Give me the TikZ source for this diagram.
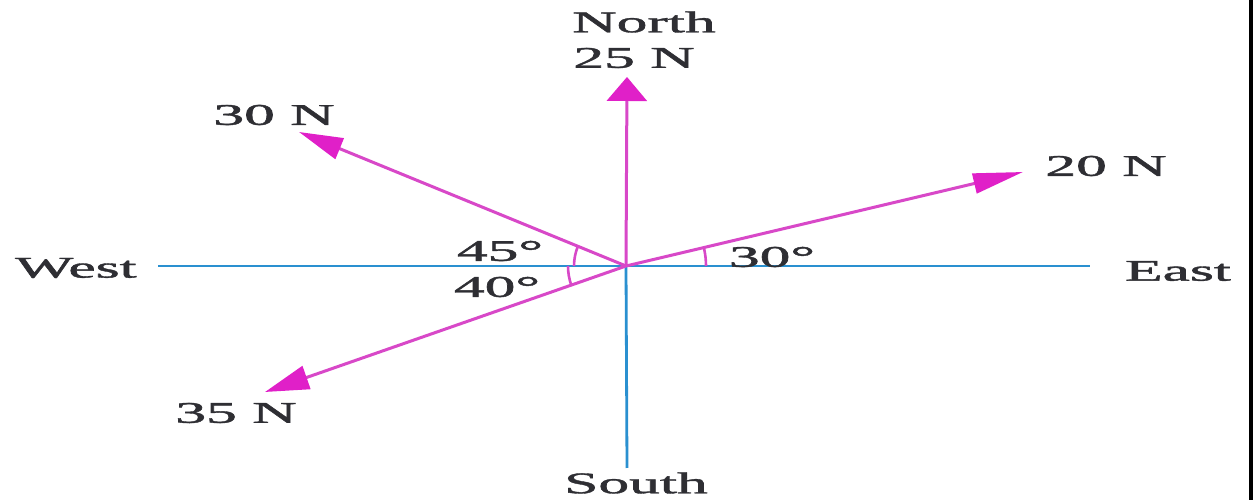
\documentclass[tikz,border=0pt]{standalone}
\usepackage{fontspec}
\setmainfont{Liberation Serif}
\newfontfamily\lblfont[FakeBold=1.2]{Liberation Serif}
\usetikzlibrary{arrows.meta}
\definecolor{mag}{HTML}{D848C8}
\definecolor{maghead}{HTML}{E020C8}
\definecolor{axblue}{HTML}{2A90D0}
\definecolor{ink}{HTML}{2E2E33}
\tikzset{
  lbl/.style={font=\lblfont\fontsize{30}{30}\selectfont, text=ink, xscale=2.05, inner sep=0pt},
  axis/.style={axblue, line width=2.8pt},
  force/.style={mag, line width=3pt},
  anglearc/.style={mag, line width=2.6pt},
}
\begin{document}
\begin{tikzpicture}[x=1pt,y=1pt]
\useasboundingbox (0,0) rectangle (1256,500);
\fill[white] (0,0) rectangle (1256,500);
% centre and end points (image y flipped)
\coordinate (O) at (626,234);
\coordinate (Wend) at (158,234);
\coordinate (Eend) at (1090,234);
\coordinate (Send) at (627,32);
\coordinate (Ntip) at (627,423);
\coordinate (NWtip) at (299,368);
\coordinate (NEtip) at (1023,328);
\coordinate (SWtip) at (265,108);
% axes
\draw[axis] (Wend) -- (Eend);
\draw[axis] (O) -- (Send);
% forces
\draw[force, -{Triangle[length=24pt,width=40pt,color=maghead]}] (O) -- (Ntip);
\draw[force, -{Triangle[length=44pt,width=22pt,color=maghead]}] (O) -- (NWtip);
\draw[force, -{Triangle[length=50pt,width=20pt,color=maghead]}] (O) -- (NEtip);
\draw[force, -{Triangle[length=44pt,width=24pt,color=maghead]}] (O) -- (SWtip);
% angle arcs
\draw[anglearc] ([shift={(157.7:52)}]O) arc[start angle=157.7, end angle=180, radius=52];
\draw[anglearc] ([shift={(180:58)}]O) arc[start angle=180, end angle=199.3, radius=58];
\draw[anglearc] ([shift={(0:80)}]O) arc[start angle=0, end angle=13.3, radius=80];
% labels
\node[lbl] (north) at (644,478) {North};
\node[lbl] (f25) at (634,442) {25 N};
\node[lbl] (f30) at (274,385) {30 N};
\node[lbl] (f20) at (1106,334) {20 N};
\node[lbl] (west) at (76,232) {West};
\node[lbl] (east) at (1178,229) {East};
\node[lbl] (south) at (636,17) {South};
\node[lbl] (f35) at (236,87) {35 N};
\node[lbl] (a45) at (500,249) {45°};
\node[lbl] (a40) at (497,213) {40°};
\node[lbl] (a30) at (772,243) {30°};
% scan edge
\draw[black, line width=4pt] (1250.5,0) -- (1250.5,500);
\end{tikzpicture}
\end{document}
